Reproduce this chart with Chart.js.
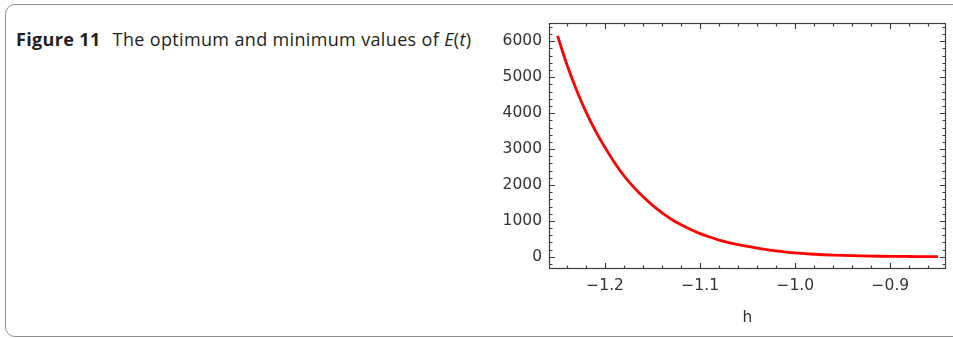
<!DOCTYPE html>
<html>
<head>
<meta charset="utf-8">
<script src="https://cdn.jsdelivr.net/npm/chart.js@4.4.1/dist/chart.umd.min.js"></script>
<style>
  html, body { margin: 0; padding: 0; background: #fff; }
  body { width: 953px; height: 338px; position: relative; overflow: hidden; }
  #card {
    position: absolute; left: 5px; top: 4px; width: 960px; height: 333px;
    border: 1px solid #909090; border-radius: 10px; box-sizing: border-box;
  }
  #caption {
    position: absolute; left: 16px; top: 28px;
    font-family: "Open Sans", sans-serif; font-size: 18px; line-height: 22px;
    letter-spacing: 0.35px; color: #231f20; white-space: nowrap;
  }
  #caption b { font-weight: 700; margin-right: 7px; }
  #chart { position: absolute; left: 480px; top: 0; }
</style>
</head>
<body>
<div id="card"></div>
<div id="caption"><b>Figure 11</b> The optimum and minimum values of <i>E</i>(<i>t</i>)</div>
<canvas id="chart" width="473" height="338"></canvas>
<script>
// h values and E(h)
const hValues = [-1.25, -1.24, -1.23, -1.22, -1.21, -1.20, -1.19, -1.18, -1.17, -1.16,
  -1.15, -1.14, -1.13, -1.12, -1.11, -1.10, -1.09, -1.08, -1.07, -1.06,
  -1.05, -1.04, -1.03, -1.02, -1.01, -1.00, -0.99, -0.98, -0.97, -0.96,
  -0.95, -0.94, -0.93, -0.92, -0.91, -0.90, -0.89, -0.88, -0.87, -0.86, -0.85];
const eValues = [6150, 5340, 4640, 4030, 3500, 3040, 2620, 2250, 1940, 1670,
  1430, 1220, 1040, 890, 760, 645, 550, 465, 395, 340,
  290, 240, 198, 162, 132, 108, 88, 71, 57, 46,
  37, 30, 24, 19, 15, 12, 10, 8, 7, 6, 5];

const xMajorTicks = [-1.2, -1.1, -1.0, -0.9];
const yMajorTicks = [0, 1000, 2000, 3000, 4000, 5000, 6000];

const frameColor = "#3c3c3c";

// Mathematica-style frame with inward ticks on all four sides
const framePlugin = {
  id: "frame",
  afterDraw(chart) {
    const { ctx, chartArea: a, scales } = chart;
    const x = scales.x, y = scales.y;
    ctx.save();
    ctx.strokeStyle = frameColor;
    ctx.lineWidth = 1.2;
    ctx.strokeRect(a.left + 0.5, a.top + 0.5, a.right - a.left - 1, a.bottom - a.top - 1);
    ctx.beginPath();
    for (let i = -63; i <= -42; i++) {
      const v = i * 0.02;
      const px = Math.round(x.getPixelForValue(v)) + 0.5;
      if (px <= a.left + 1 || px >= a.right - 1) continue;
      const len = (Math.abs(Math.round(v * 10) - v * 10) < 1e-6) ? 6 : 3.5;
      ctx.moveTo(px, a.bottom); ctx.lineTo(px, a.bottom - len);
      ctx.moveTo(px, a.top); ctx.lineTo(px, a.top + len);
    }
    for (let i = -1; i <= 32; i++) {
      const v = i * 200;
      const py = Math.round(y.getPixelForValue(v)) + 0.5;
      if (py <= a.top + 1 || py >= a.bottom - 1) continue;
      const len = (v % 1000 === 0) ? 6 : 3.5;
      ctx.moveTo(a.left, py); ctx.lineTo(a.left + len, py);
      ctx.moveTo(a.right, py); ctx.lineTo(a.right - len, py);
    }
    ctx.stroke();
    ctx.restore();
  }
};

const tickFont = { family: "DejaVu Sans", size: 15.5 };

new Chart(document.getElementById("chart").getContext("2d"), {
  type: "line",
  data: {
    datasets: [{
      data: hValues.map((h, i) => ({ x: h, y: eValues[i] })),
      borderColor: "#ff0000",
      borderWidth: 2.8,
      pointRadius: 0,
      fill: false,
      cubicInterpolationMode: "monotone"
    }]
  },
  options: {
    responsive: false,
    animation: false,
    layout: { padding: { top: 23, right: 7, left: 0, bottom: 0 } },
    plugins: { legend: { display: false }, tooltip: { enabled: false } },
    scales: {
      x: {
        type: "linear",
        min: -1.259,
        max: -0.8415,
        grid: { display: false, drawTicks: false },
        border: { display: false },
        afterBuildTicks: s => { s.ticks = xMajorTicks.map(v => ({ value: v })); },
        afterFit: s => { s.height = 69; },
        ticks: {
          font: tickFont, color: "#333", padding: 8, maxRotation: 0,
          callback: v => "\u2212" + Math.abs(v).toFixed(1)
        },
        title: {
          display: true, text: "h", font: tickFont, color: "#333",
          padding: { top: 0, bottom: 11 }
        }
      },
      y: {
        min: -340,
        max: 6510,
        grid: { display: false, drawTicks: false },
        border: { display: false },
        afterBuildTicks: s => { s.ticks = yMajorTicks.map(v => ({ value: v })); },
        afterFit: s => { s.width = 69; },
        ticks: { font: tickFont, color: "#333", padding: 7, callback: v => String(v) }
      }
    }
  },
  plugins: [framePlugin]
});
</script>
</body>
</html>
